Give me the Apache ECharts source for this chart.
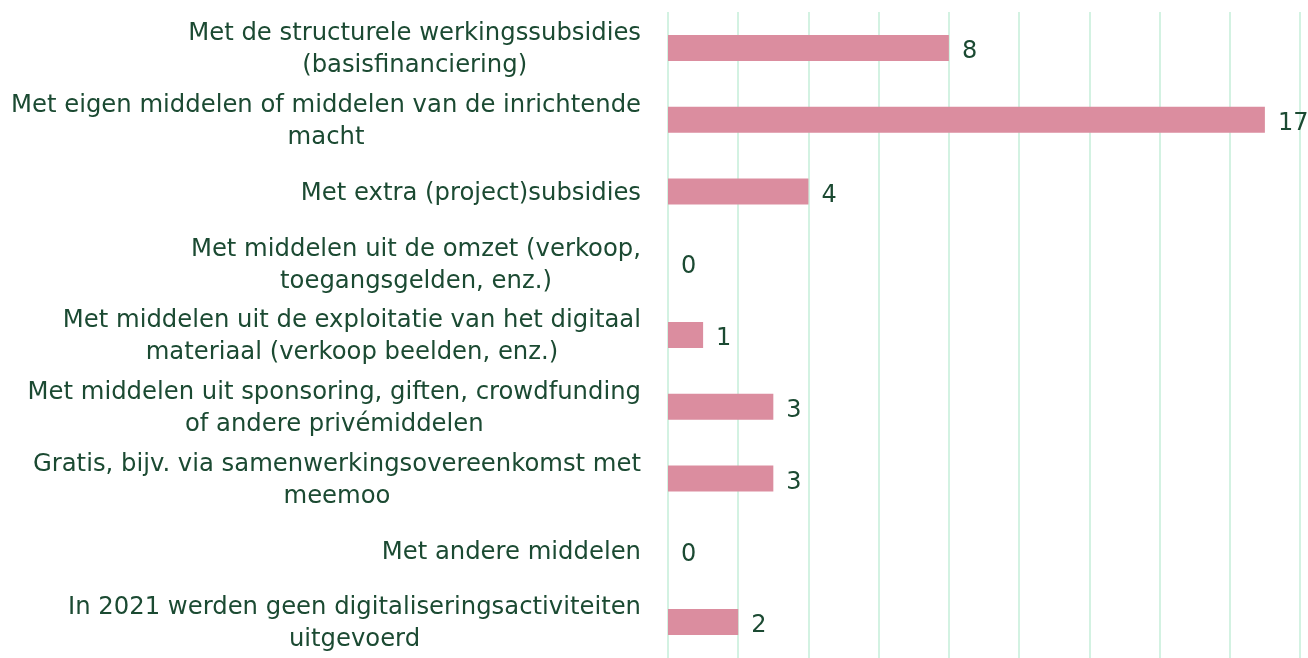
<!DOCTYPE html>
<html>
<head>
<meta charset="utf-8">
<script src="https://cdn.jsdelivr.net/npm/echarts@6/dist/echarts.min.js"></script>
<style>
  html, body { margin: 0; padding: 0; background: #ffffff; }
  #chart { width: 1308px; height: 658px; }
</style>
</head>
<body>
<div id="chart"></div>
<script>
// Financing sources for digitisation activities (number of organisations)
const categories = [
  'Met de structurele werkingssubsidies\n(basisfinanciering)',
  'Met eigen middelen of middelen van de inrichtende\nmacht',
  'Met extra (project)subsidies',
  'Met middelen uit de omzet (verkoop,\ntoegangsgelden, enz.)',
  'Met middelen uit de exploitatie van het digitaal\nmateriaal (verkoop beelden, enz.)',
  'Met middelen uit sponsoring, giften, crowdfunding\nof andere privémiddelen',
  'Gratis, bijv. via samenwerkingsovereenkomst met\nmeemoo',
  'Met andere middelen',
  'In 2021 werden geen digitaliseringsactiviteiten\nuitgevoerd'
];
const counts = [8, 17, 4, 0, 1, 3, 3, 0, 2];

const textColor = '#1b4a32';
const fontFamily = 'DejaVu Sans, sans-serif';

const chart = echarts.init(document.getElementById('chart'));
chart.setOption({
  backgroundColor: '#ffffff',
  animation: false,
  grid: { left: 668, right: 8, top: 12, height: 651, containLabel: false },
  xAxis: {
    type: 'value',
    min: 0,
    max: 18,
    interval: 2,
    axisLine: { show: false },
    axisTick: { show: false },
    axisLabel: { show: false },
    splitLine: { show: true, lineStyle: { color: '#d3f2e2', width: 2 } }
  },
  yAxis: {
    type: 'category',
    inverse: true,
    data: categories,
    axisLine: { show: false },
    axisTick: { show: false },
    axisLabel: {
      margin: 27,
      align: 'right',
      // each line is centred inside the right-aligned label block
      formatter: (name) => name.split('\n').map((line) => '{c|' + line + '}').join('\n'),
      rich: {
        c: {
          align: 'center',
          color: textColor,
          fontFamily: fontFamily,
          fontSize: 24.3,
          lineHeight: 32
        }
      },
      padding: [4, 0, 0, 0]
    }
  },
  series: [{
    type: 'bar',
    data: counts,
    barWidth: 26,
    itemStyle: { color: '#db8d9f' },
    label: {
      show: true,
      position: 'right',
      distance: 13,
      offset: [0, 4],
      color: textColor,
      fontFamily: fontFamily,
      fontSize: 24
    }
  }]
});
</script>
</body>
</html>
